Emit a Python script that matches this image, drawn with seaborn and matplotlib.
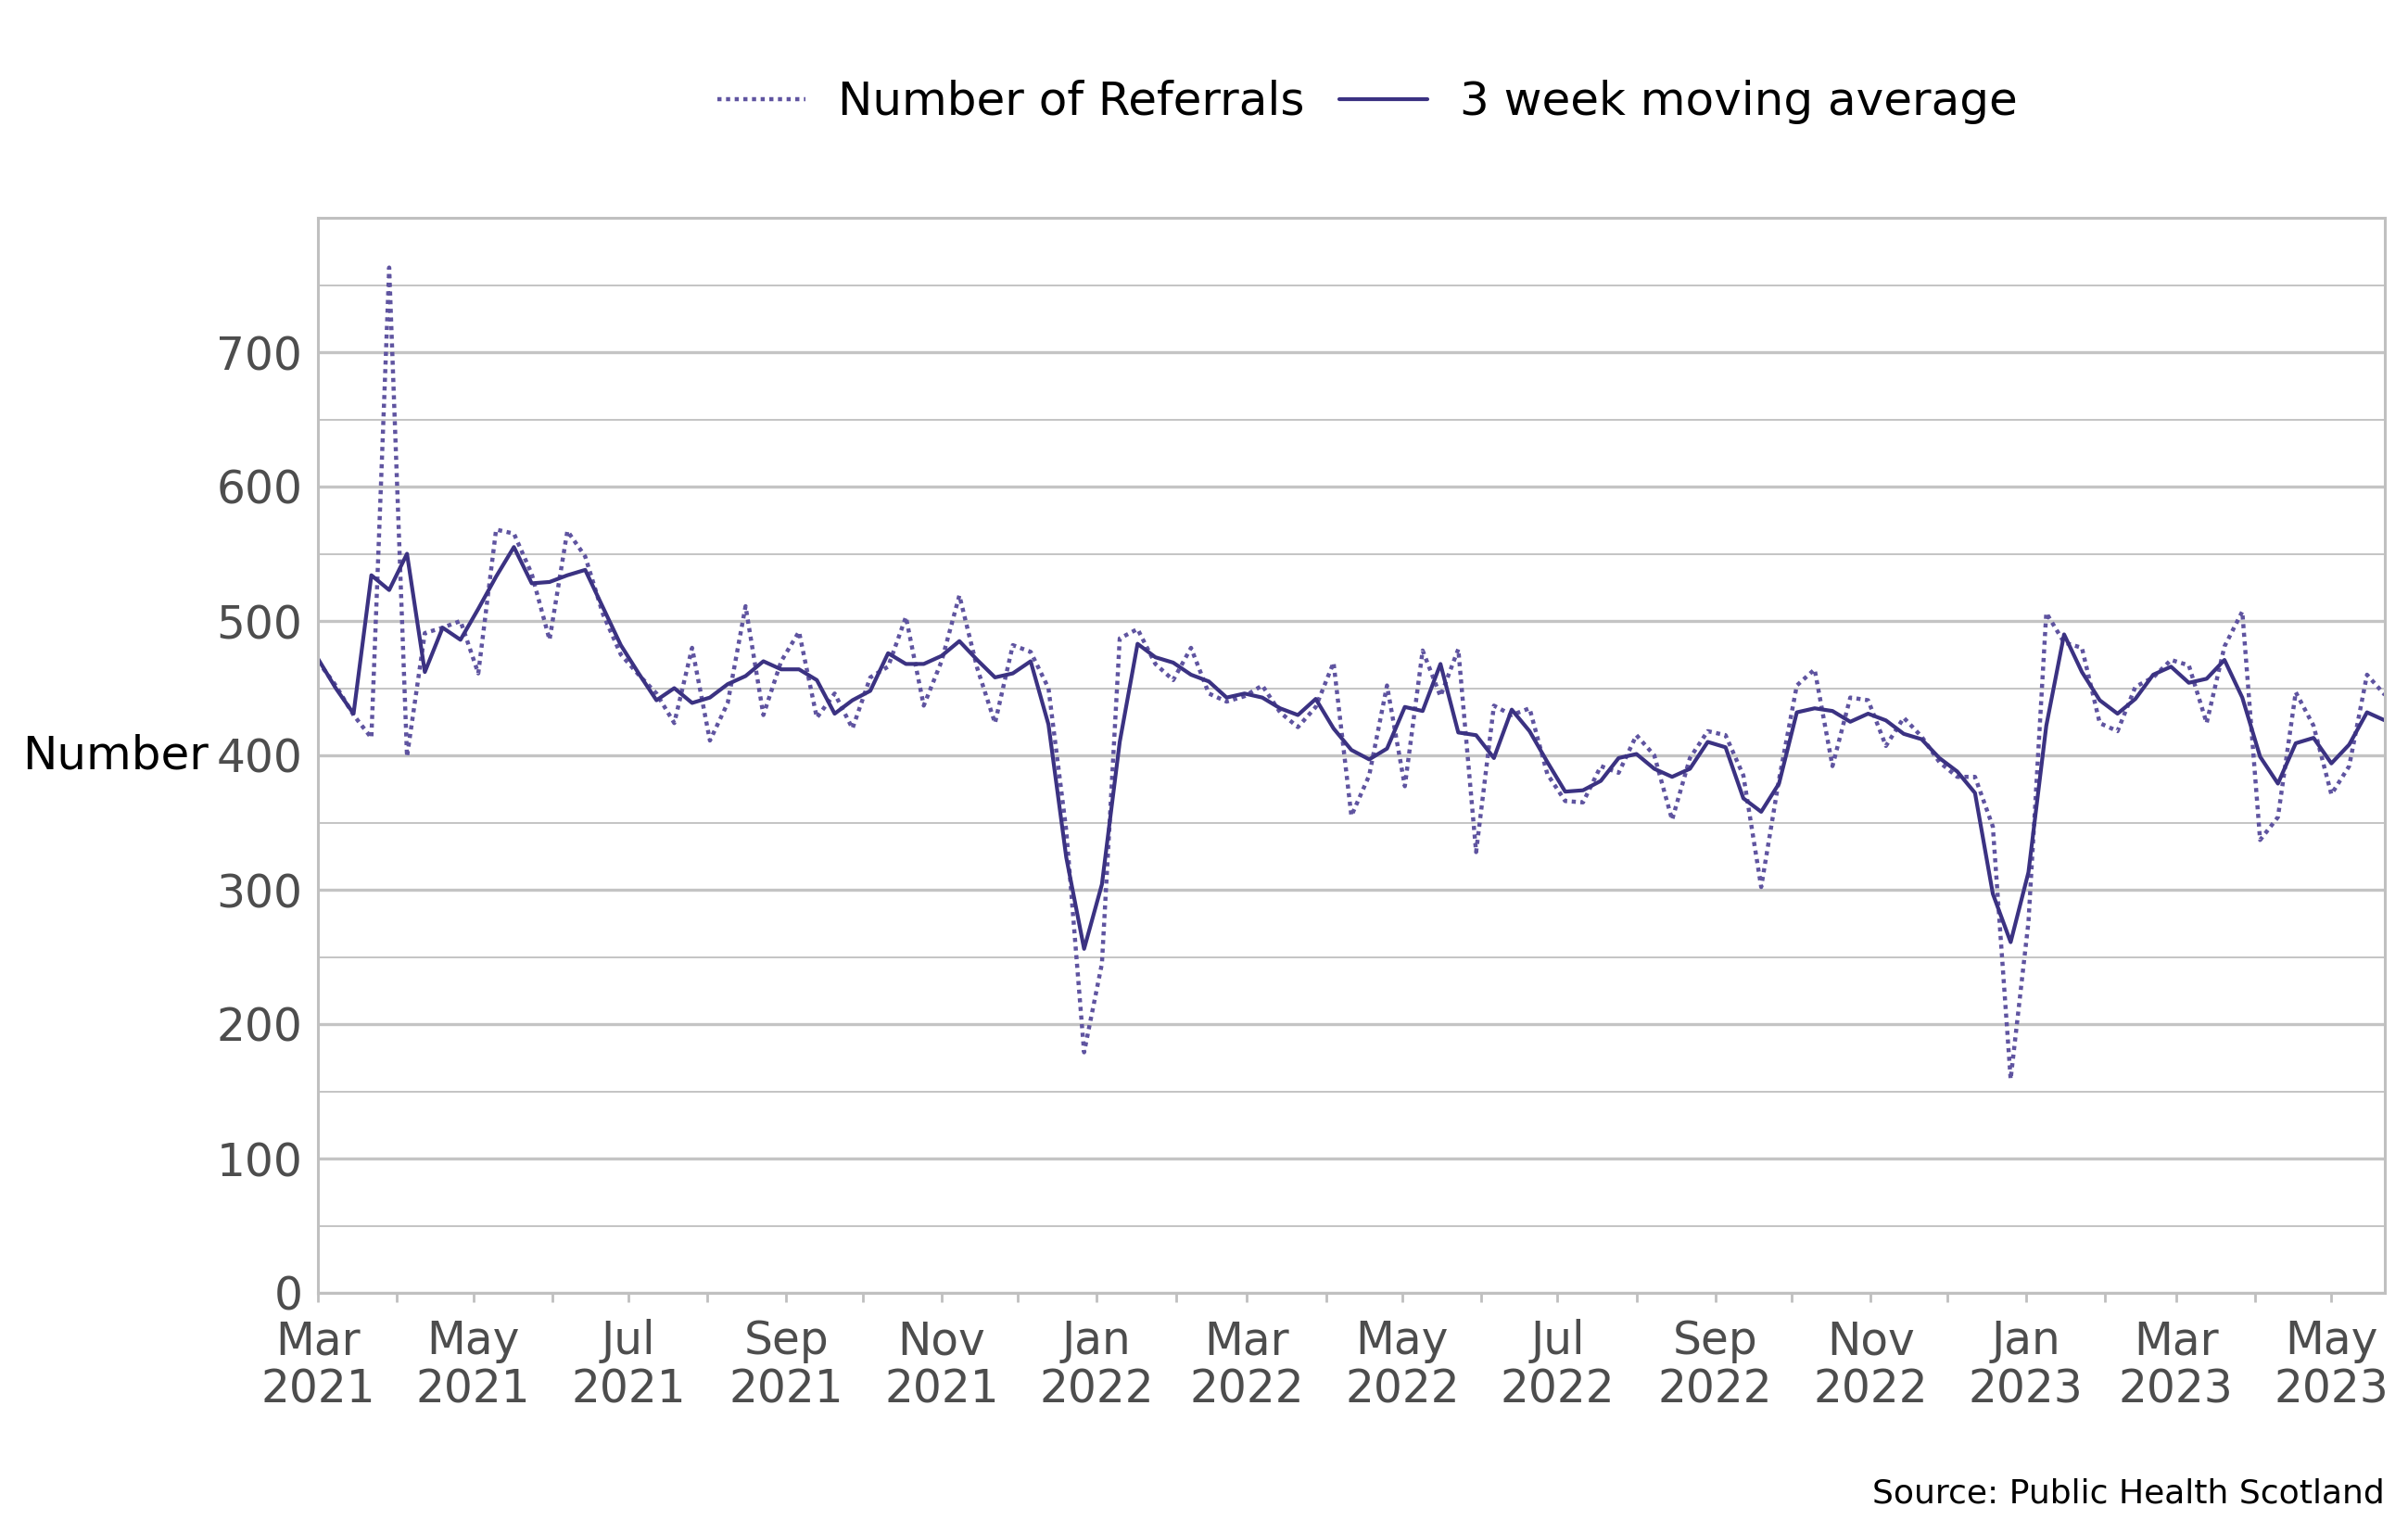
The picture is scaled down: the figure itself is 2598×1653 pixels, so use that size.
import matplotlib
matplotlib.use('Agg')
import matplotlib.pyplot as plt
import matplotlib.dates as mdates
from matplotlib.ticker import MultipleLocator, FixedLocator
import seaborn as sns
import pandas as pd

# ---------------- data ----------------
start_week = '2021-03-01'
n_weeks = 117

referrals = [
    470, 452, 430, 413, 763, 399, 491, 495, 500, 461,
    568, 565, 535, 486, 567, 548, 505, 475, 460, 446,
    424, 480, 411, 439, 511, 430, 470, 492, 428, 446,
    420, 458, 466, 503, 437, 470, 519, 465, 424, 482,
    477, 450, 344, 179, 245, 487, 494, 468, 456, 480,
    446, 440, 444, 452, 432, 421, 436, 469, 355, 385,
    452, 377, 478, 444, 479, 328, 437, 430, 435, 386,
    366, 365, 392, 387, 415, 400, 352, 398, 418, 415,
    385, 302, 382, 452, 464, 392, 443, 441, 407, 428,
    414, 395, 384, 384, 347, 159, 276, 506, 484, 480,
    424, 418, 451, 458, 471, 467, 424, 481, 507, 337,
    354, 447, 422, 371, 392, 460, 445,
]

moving_avg = [
    472, 450, 431, 534, 523, 550, 462, 495, 486, 509,
    533, 555, 528, 529, 534, 538, 510, 482, 461, 441,
    450, 439, 443, 453, 459, 470, 464, 464, 456, 431,
    441, 448, 476, 468, 468, 474, 485, 471, 458, 461,
    470, 423, 324, 256, 304, 410, 483, 473, 469, 460,
    455, 443, 446, 443, 435, 430, 442, 420, 404, 397,
    405, 436, 433, 468, 417, 415, 398, 434, 418, 395,
    373, 374, 381, 398, 401, 390, 384, 390, 410, 406,
    368, 358, 379, 432, 435, 433, 425, 431, 426, 416,
    412, 398, 388, 372, 297, 261, 313, 422, 490, 462,
    441, 431, 442, 460, 466, 454, 457, 471, 443, 399,
    379, 409, 413, 394, 408, 432, 426,
]

y_major_ticks = [0, 100, 200, 300, 400, 500, 600, 700]
series_names = ['Number of Referrals', '3 week moving average']

weeks = pd.date_range(start_week, periods=n_weeks, freq='7D')
df = pd.DataFrame({'week': weeks,
                   series_names[0]: referrals,
                   series_names[1]: moving_avg})

# ---------------- style ----------------
sns.set_theme(style='white')
plt.rcParams['font.family'] = ['DejaVu Sans']

dotted_color = '#5F54A0'
solid_color = '#3B3282'
grid_color = '#c4c4c4'
tick_color = '#4d4d4d'

W, H, DPI = 2598, 1653, 200
fig = plt.figure(figsize=(W / DPI, H / DPI), dpi=DPI)
L, R, T, B = 343, 2573, 235, 1395
ax = fig.add_axes([L / W, 1 - B / H, (R - L) / W, (B - T) / H])

sns.lineplot(data=df, x='week', y=series_names[0], ax=ax, color=dotted_color,
             linestyle=(0, (1, 1.1)), linewidth=1.6, label=series_names[0])
sns.lineplot(data=df, x='week', y=series_names[1], ax=ax, color=solid_color,
             linewidth=1.5, label=series_names[1])

# y axis
ax.set_ylim(0, 800)
ax.yaxis.set_major_locator(FixedLocator(y_major_ticks))
ax.yaxis.set_minor_locator(MultipleLocator(50))
ax.grid(which='major', axis='y', color=grid_color, linewidth=1.2)
ax.grid(which='minor', axis='y', color=grid_color, linewidth=0.7)
ax.grid(which='both', axis='x', visible=False)
ax.set_axisbelow(True)
ax.tick_params(axis='y', which='both', length=0, pad=6, labelsize=17.5,
               labelcolor=tick_color, left=False)
ax.set_ylabel('Number', rotation=0, ha='right', va='center', fontsize=18,
              color='black')
ax.yaxis.set_label_coords(-0.053, 0.5)

# x axis
ax.set_xlim(weeks[0], weeks[-1])
ax.xaxis.set_major_locator(mdates.MonthLocator(bymonth=[1, 3, 5, 7, 9, 11]))
ax.xaxis.set_major_formatter(mdates.DateFormatter('%b\n%Y'))
ax.xaxis.set_minor_locator(mdates.MonthLocator())
ax.tick_params(axis='x', which='both', direction='out', length=3.6, width=1,
               color='#bfbfbf', bottom=True, labelsize=17.5,
               labelcolor=tick_color, pad=6.5)
ax.set_xlabel('')
for lab in ax.get_xticklabels():
    lab.set_linespacing(1.12)

for sp in ax.spines.values():
    sp.set_visible(True)
    sp.set_color('#c0c0c0')
    sp.set_linewidth(1.1)

# legend
handles, labels = ax.get_legend_handles_labels()
ax.get_legend().remove()
leg = fig.legend(handles, labels, loc='center',
                 bbox_to_anchor=(1475 / W, 1 - 110 / H),
                 ncol=2, frameon=False, fontsize=18, handlelength=1.9,
                 handletextpad=0.7, columnspacing=0.75)
for t in leg.get_texts():
    t.set_color('black')

fig.text(R / W, 1 - 1612 / H, 'Source: Public Health Scotland', ha='right',
         va='center', fontsize=13, color='black')

fig.savefig('out.png', dpi=DPI)
